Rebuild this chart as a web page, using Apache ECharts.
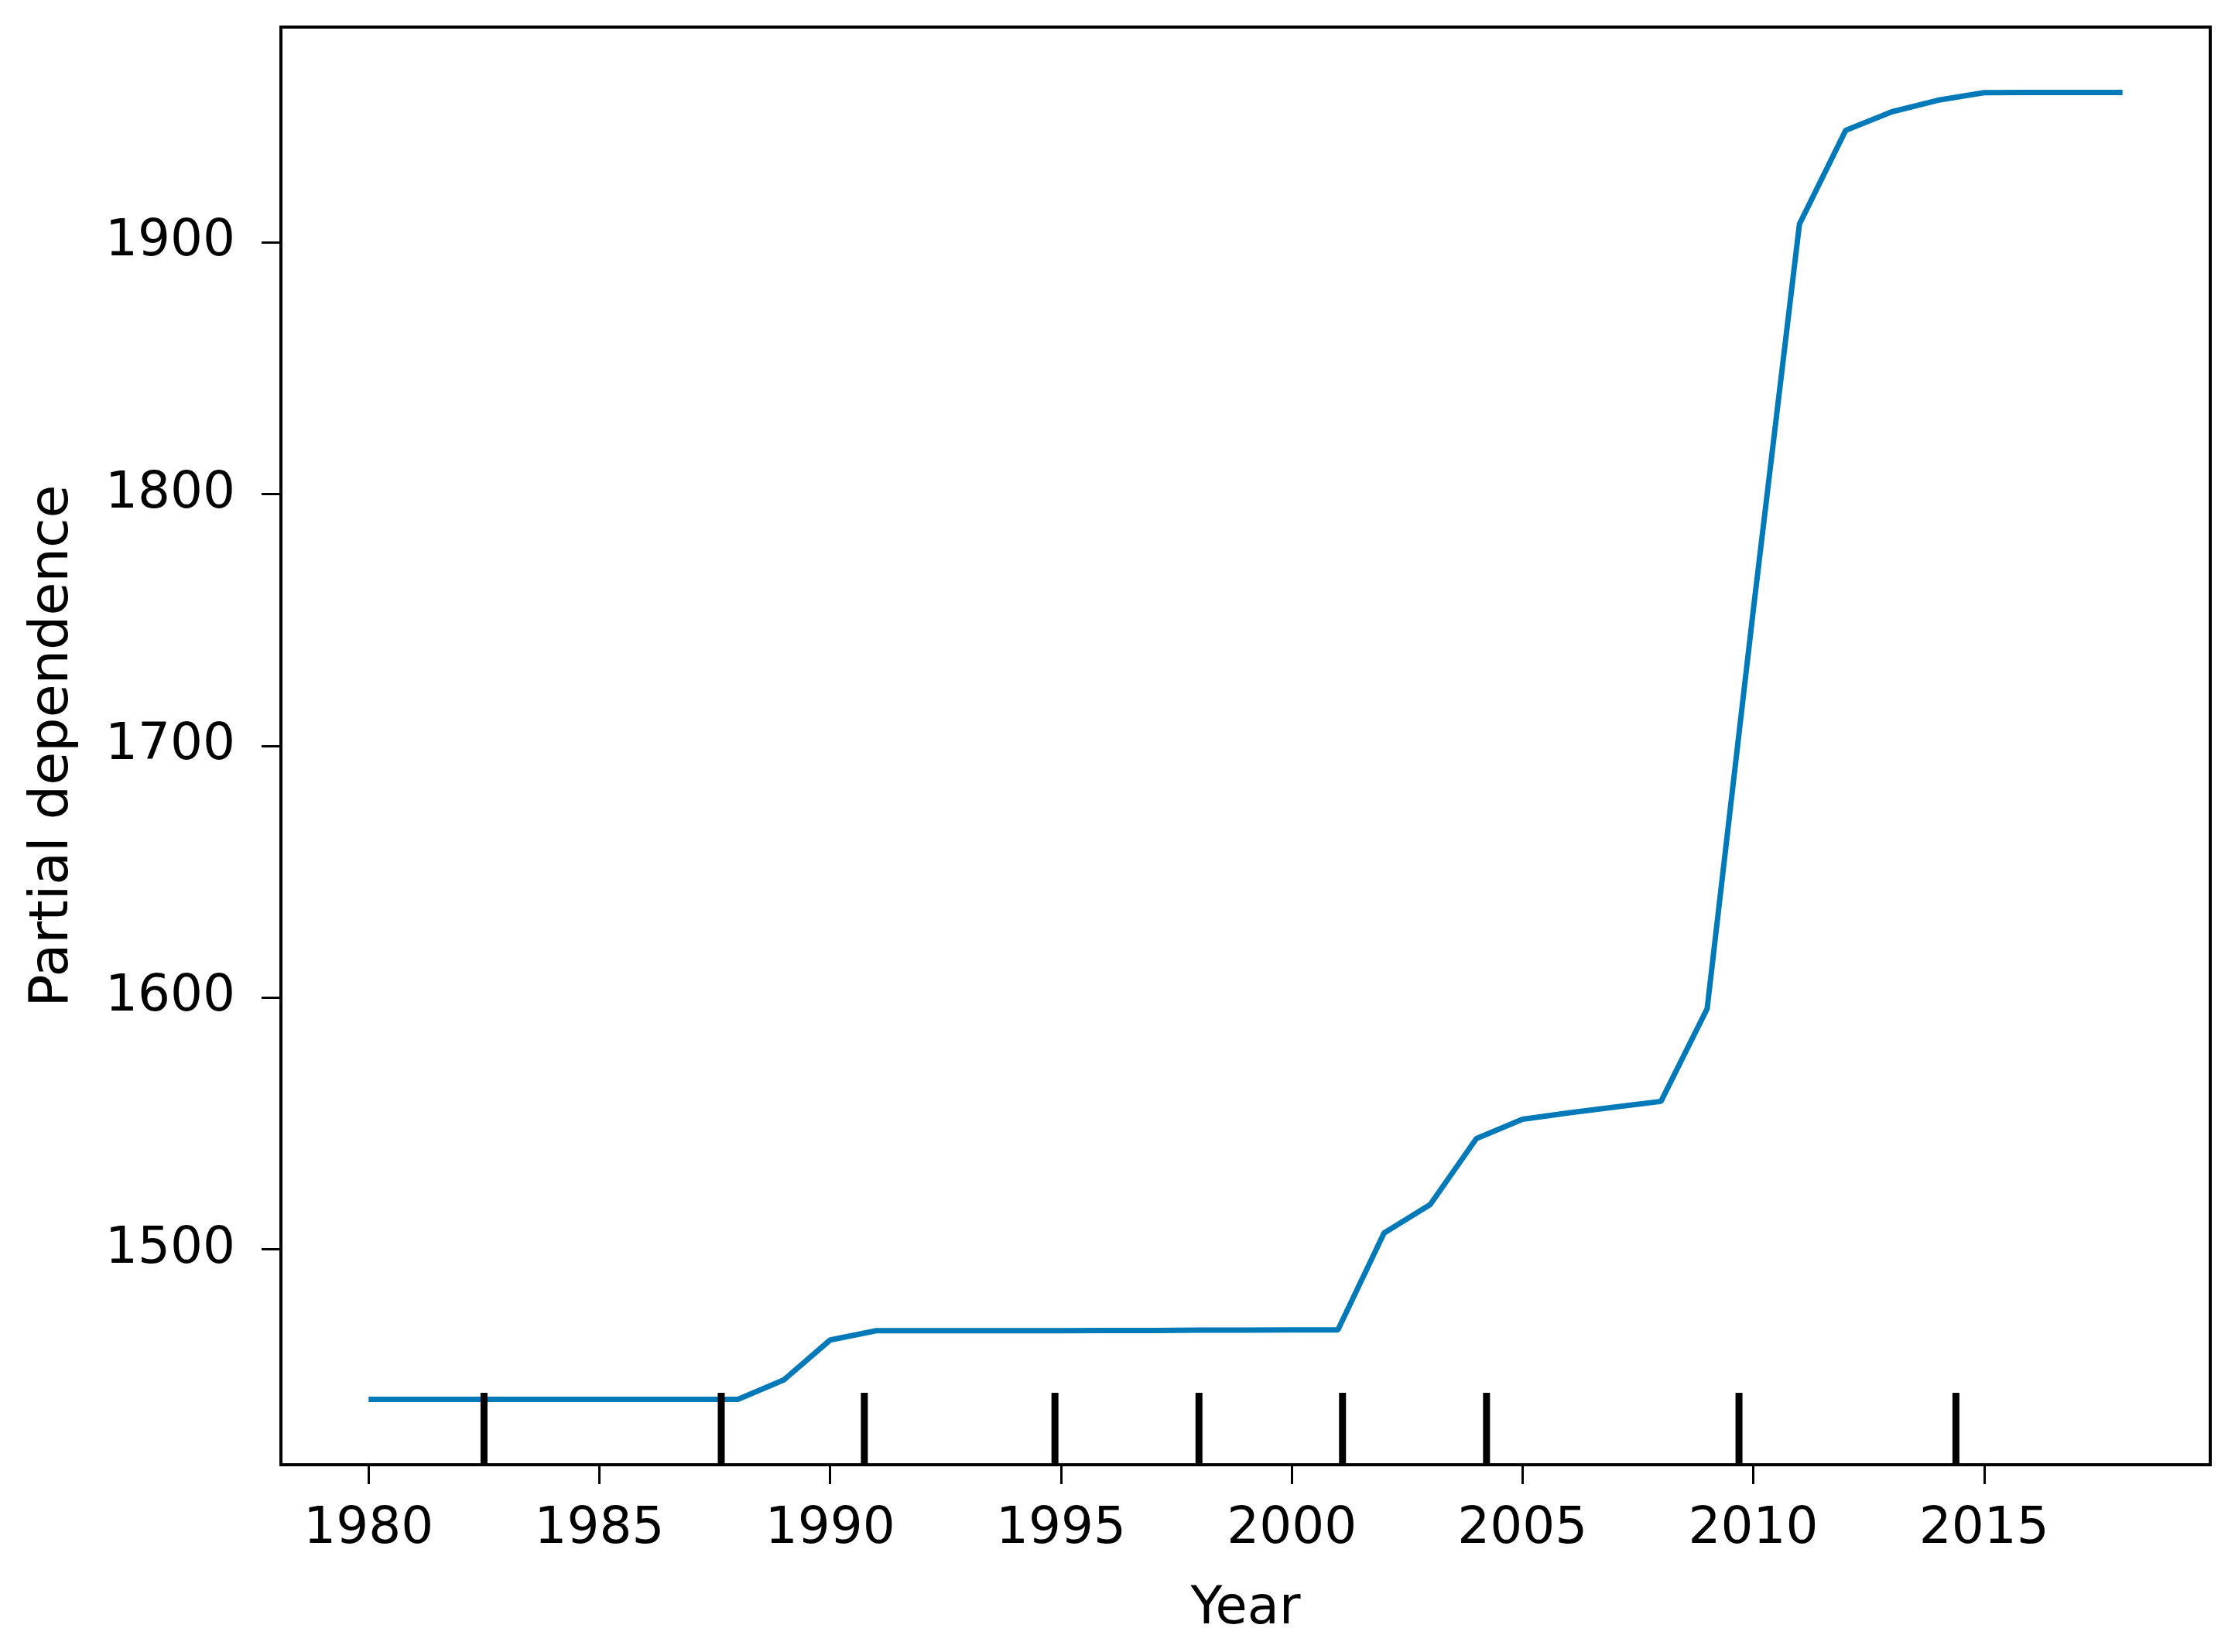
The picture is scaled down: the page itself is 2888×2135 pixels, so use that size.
<!DOCTYPE html>
<html>
<head>
<meta charset="utf-8">
<script src="https://cdn.jsdelivr.net/npm/echarts@6/dist/echarts.min.js"></script>
<style>
html,body{margin:0;padding:0;background:#fff;}
#chart{width:2888px;height:2135px;}
</style>
</head>
<body>
<div id="chart"></div>
<script>
// ---- data ----
const years = [1980,1981,1982,1983,1984,1985,1986,1987,1988,1989,1990,1991,1992,1993,1994,1995,1996,1997,1998,1999,2000,2001,2002,2003,2004,2005,2006,2007,2008,2009,2010,2011,2012,2013,2014,2015,2016,2017,2018];
const partialDependence = [1440.4,1440.4,1440.4,1440.4,1440.4,1440.4,1440.4,1440.4,1440.4,1448.2,1464.0,1467.7,1467.7,1467.7,1467.7,1467.7,1467.8,1467.8,1467.9,1467.9,1468.0,1468.0,1506.5,1517.8,1544.0,1551.7,1554.2,1556.5,1558.8,1595.6,1754.0,1907.3,1944.5,1951.9,1956.5,1959.5,1959.6,1959.6,1959.6];
const deciles = [1982.5,1987.64,1990.74,1994.87,1997.99,2001.1,2004.22,2009.69,2014.39];
const xTicks = [1980,1985,1990,1995,2000,2005,2010,2015];
const yTicks = [1500,1600,1700,1800,1900];
const xName = 'Year';
const yName = 'Partial dependence';

const yMinData = Math.min(...partialDependence), yMaxData = Math.max(...partialDependence);
const yPad = (yMaxData - yMinData) * 0.05;
const yMin = yMinData - yPad, yMax = yMaxData + yPad;
const xPad = (years[years.length-1] - years[0]) * 0.05;
const xMin = years[0] - xPad, xMax = years[years.length-1] + xPad;

const FONT = 'DejaVu Sans';
const chart = echarts.init(document.getElementById('chart'), null, {renderer:'canvas'});
chart.setOption({
  animation: false,
  backgroundColor: '#ffffff',
  textStyle: {fontFamily: FONT},
  grid: {left: 363, right: 32, top: 35, bottom: 242, show: true, borderColor: '#000', borderWidth: 4, backgroundColor: 'transparent'},
  xAxis: {
    type: 'value', min: xMin, max: xMax,
    name: xName, nameLocation: 'middle', nameGap: 154,
    nameTextStyle: {fontFamily: FONT, fontSize: 67, color: '#000'},
    axisLine: {show: false},
    axisTick: {show: true, customValues: xTicks, length: 25, lineStyle: {color: '#000', width: 3}},
    axisLabel: {show: true, customValues: xTicks, margin: 51, fontFamily: FONT, fontSize: 66, color: '#000', formatter: v => String(v)},
    splitLine: {show: false}
  },
  yAxis: {
    type: 'value', min: yMin, max: yMax,
    name: yName, nameLocation: 'middle', nameGap: 259, nameRotate: 90,
    nameTextStyle: {fontFamily: FONT, fontSize: 70, color: '#000'},
    axisLine: {show: false},
    axisTick: {show: true, customValues: yTicks, length: 25, lineStyle: {color: '#000', width: 3}},
    axisLabel: {show: true, customValues: yTicks, margin: 59, fontFamily: FONT, fontSize: 66, color: '#000', formatter: v => String(v)},
    splitLine: {show: false}
  },
  series: [
    {
      type: 'line',
      data: years.map((y, i) => [y, partialDependence[i]]),
      showSymbol: false,
      symbol: 'none',
      lineStyle: {color: '#0079b8', width: 7},
      itemStyle: {color: '#0079b8'},
      z: 3
    },
    {
      type: 'custom',
      data: deciles.map(d => [d]),
      z: 4,
      renderItem: function (params, api) {
        const x = api.value(0);
        const p = api.coord([x, yMin]);
        const h = params.coordSys.height * 0.05;
        return {type: 'line', shape: {x1: p[0], y1: p[1], x2: p[0], y2: p[1] - h}, style: {stroke: '#000', lineWidth: 9}};
      }
    }
  ]
});
</script>
</body>
</html>
